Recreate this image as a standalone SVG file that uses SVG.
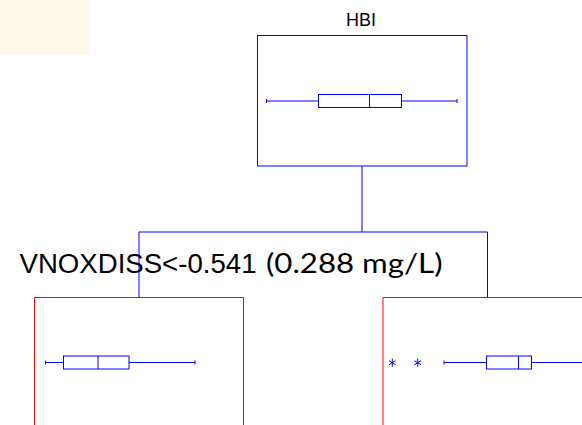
<svg xmlns="http://www.w3.org/2000/svg" width="582" height="425" viewBox="0 0 582 425">
<style>
.blue{fill:none;stroke:#0000ff;stroke-width:1}
.red{fill:none;stroke:#ff0000;stroke-width:1}
.box{fill:#ffffff;stroke:#0000ff;stroke-width:1}
.lbl{font-family:"Liberation Sans",Arial,sans-serif;fill:#000000}
.cal{font-family:Lato,"Open Sans","Liberation Sans",sans-serif;fill:#000000}
</style>
<rect x="0" y="0" width="90" height="55" fill="#fff9eb"/>
<g id="connectors">
<path class="blue" d="M362 166 V232 M139 232 H487.5 M139 232 V297.5 M487.5 232 V297.5"/>
</g>
<g id="node-hbi">
<rect class="blue" x="257.5" y="35.5" width="209.5" height="130.5"/>
<text class="lbl" x="361" y="25.5" font-size="18" text-anchor="middle" textLength="30" lengthAdjust="spacingAndGlyphs">HBI</text>
<path class="blue" d="M266.5 101 H318.5 M401.5 101 H457 M266.5 99 V103 M457 99 V103"/>
<rect class="box" x="318.5" y="94.5" width="83" height="13"/>
<path class="blue" d="M369.5 94.5 V107.5"/>
</g>
<g id="node-left">
<path class="red" d="M34.5 425 V297.5 H243.5 V425"/>
<path class="blue" d="M45.5 362.5 H63.5 M129 362.5 H195 M45.5 360.5 V364.5 M195 360.5 V364.5"/>
<rect class="box" x="63.5" y="356" width="65.5" height="13"/>
<path class="blue" d="M98 356 V369"/>
</g>
<g id="node-right">
<path class="red" d="M383 425 V297.5 H582"/>
<path class="blue" d="M444 362.5 H486.5 M531.5 362.5 H582 M444 360.5 V364.5"/>
<rect class="box" x="486.5" y="356" width="45" height="13"/>
<path class="blue" d="M518.5 356 V369"/>
<path class="blue" d="M392.3 358.7 V366.7 M389 360.7 L395.6 364.7 M389 364.7 L395.6 360.7 M417.7 358.7 V366.7 M414.4 360.7 L421 364.7 M414.4 364.7 L421 360.7"/>
</g>
<g id="split-label">
<text class="lbl" x="19.5" y="272.5" font-size="27" textLength="237" lengthAdjust="spacingAndGlyphs">VNOXDISS&lt;-0.541</text>
<text class="cal" x="266" y="272.5" font-size="26" textLength="176.5" lengthAdjust="spacingAndGlyphs">(0.288 mg/L)</text>
</g>
</svg>
